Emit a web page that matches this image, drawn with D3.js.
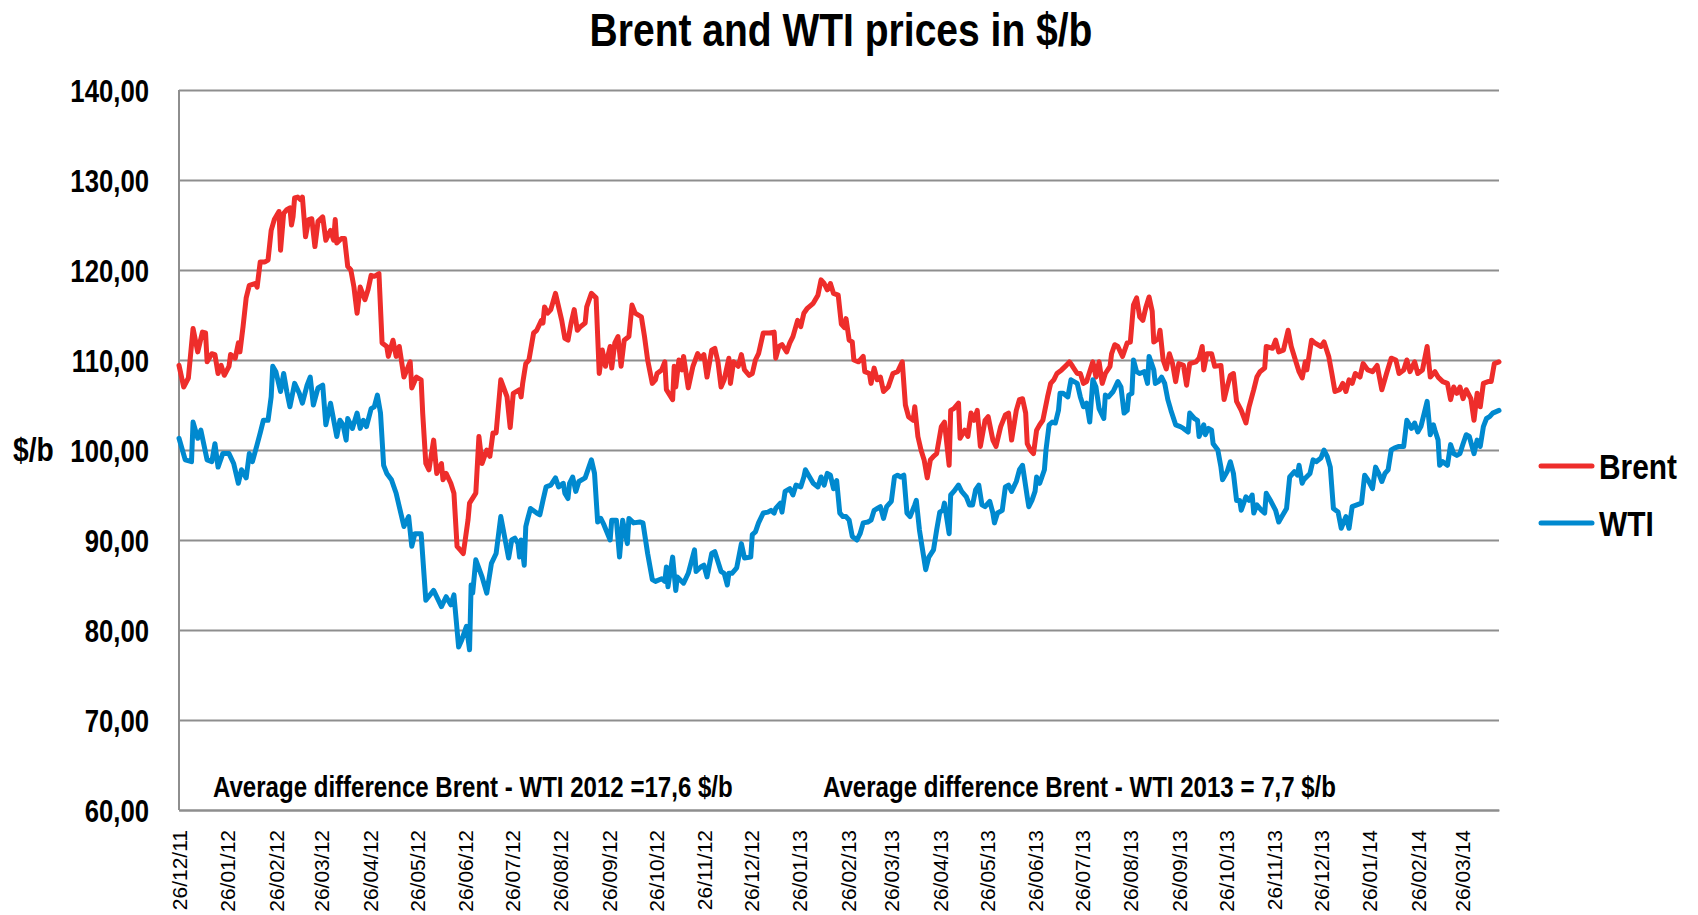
<!DOCTYPE html>
<html>
<head>
<meta charset="utf-8">
<title>Brent and WTI prices in $/b</title>
<script src="https://d3js.org/d3.v7.min.js"></script>
<style>
  body { margin: 0; background: #fff; }
  svg text { font-family: 'Liberation Sans', Arial, sans-serif; font-weight: bold; fill: #000; }
  .xaxis text { font-weight: normal; }
</style>
</head>
<body>
<script>
// days counted from 26/12/2011
var startDate = "26/12/11";

var brentDays = [0,3,6,9,12,15,17,18,21,23,25,27,29,32,33,36,38,39,41,43,45,49,50,52,55,57,59,61,64,65,67,69,71,72,73,74,76,78,79,81,83,85,87,89,92,94,97,99,100,101,104,106,108,110,112,114,116,119,121,123,125,128,130,133,134,137,139,141,144,148,149,152,155,156,158,160,163,165,168,169,171,174,176,178,180,182,185,186,190,192,194,197,199,201,203,206,210,212,214,
  218,219,220,222,224,227,229,232,233,234,236,238,241,243,245,247,249,251,253,255,257,260,261,264,267,269,271,273,276,277,279,281,283,285,288,290,292,296,298,300,303,305,306,309,311,312,316,317,318,320,322,323,326,329,332,334,336,338,341,343,345,347,349,352,353,355,358,360,362,365,367,369,371,374,378,381,382,384,386,389,391,393,396,398,400,402,406,409,411,413,415,417,419,422,
  424,426,427,429,431,432,435,438,439,442,443,445,447,449,451,454,457,460,463,465,467,470,471,473,475,477,479,481,483,485,488,490,493,494,496,499,500,503,505,507,509,511,513,516,518,521,523,526,529,531,533,536,538,540,542,543,545,547,549,551,553,556,558,560,562,565,568,570,572,575,577,579,581,585,587,589,591,593,596,597,599,601,604,607,609,611,613,615,617,619,621,623,624,627,628,630,632,634,636,
  638,640,643,645,647,651,653,655,656,658,661,663,667,669,671,673,675,677,680,683,685,688,690,692,695,696,700,702,704,707,710,712,715,717,719,721,722,725,727,731,733,736,738,740,743,745,747,749,751,753,756,758,761,764,767,770,773,776,779,781,784,786,788,791,793,796,799,801,804,806,809,812,814,816,818,820,822,824,827,829,831,833,835,838,840,842,845];

var brentPrices = [109.4,107.0,108.0,113.5,110.9,113.1,113.0,109.8,110.7,110.6,108.5,109.4,108.3,109.3,110.6,110.2,111.9,110.9,113.7,116.9,118.3,118.5,118.1,120.9,120.9,121.1,124.4,125.6,126.5,122.2,126.3,126.7,126.9,125.0,125.9,128.0,128.1,127.8,128.1,123.7,125.6,125.7,122.6,125.4,125.9,123.3,124.4,123.3,125.6,123.0,123.5,123.5,120.4,120.0,118.1,115.2,118.1,116.7,117.8,119.4,119.3,119.6,111.9,111.5,110.4,112.2,110.4,111.5,108.1,109.8,106.9,108.1,107.8,104.1,98.5,97.8,101.1,97.4,98.5,96.7,97.4,96.3,95.2,89.3,88.9,88.5,92.2,94.1,95.2,101.5,98.5,100.0,99.3,101.9,101.9,107.8,105.9,102.5,106.3,
  106.7,105.9,107.4,109.6,110.0,113.0,113.3,114.4,114.1,115.9,115.2,115.6,117.4,115.9,114.4,112.4,112.2,114.1,115.6,113.3,113.7,114.1,115.9,117.4,116.9,108.5,111.1,109.3,111.5,109.1,111.9,112.6,109.3,112.2,112.6,116.1,115.2,114.8,112.6,110.0,107.4,107.8,108.5,108.9,109.8,106.7,105.6,109.3,107.0,110.0,108.9,110.4,106.9,109.3,110.7,110.2,110.6,108.1,111.1,111.3,109.8,107.0,107.8,110.2,107.4,109.8,109.3,110.6,108.9,108.3,108.5,110.0,110.7,113.0,113.0,113.1,110.2,111.5,111.7,110.9,111.9,112.6,114.4,113.7,115.2,115.7,116.3,117.2,118.9,118.5,117.8,118.5,117.4,117.2,
  114.0,113.6,114.6,112.2,112.0,110.0,109.8,110.4,108.7,108.5,107.4,109.1,107.8,108.1,106.5,107.0,108.5,108.7,109.8,105.0,103.7,103.3,104.8,101.5,100.0,98.9,96.9,98.9,99.3,99.6,102.6,103.1,98.3,104.4,104.6,105.2,101.3,102.2,101.5,104.1,103.3,104.4,100.4,103.3,103.7,101.1,100.4,102.6,103.9,104.1,101.1,104.4,105.6,105.7,104.1,100.7,100.0,99.6,102.2,102.8,103.3,105.9,107.4,107.8,108.5,108.9,109.4,109.8,109.3,108.5,108.5,107.4,107.6,109.8,108.1,109.8,107.4,108.5,109.3,110.7,111.7,111.5,110.4,111.9,112.0,116.1,116.9,114.8,114.4,115.9,117.0,115.4,112.0,112.4,113.3,110.0,109.0,110.7,109.6,
  107.6,109.6,109.4,107.2,109.6,109.8,110.2,111.5,108.9,110.7,110.7,109.3,109.4,105.6,107.0,108.3,108.5,105.4,104.4,103.0,104.8,106.7,108.1,108.7,109.1,111.5,111.3,112.2,110.9,111.1,113.3,111.5,109.8,108.7,108.0,109.8,108.9,112.2,111.9,111.5,112.0,110.4,108.5,106.5,106.7,107.4,106.5,107.8,107.4,108.5,108.1,109.6,108.9,108.7,109.4,106.7,108.5,110.2,110.0,108.5,108.9,110.0,108.7,109.8,108.5,108.9,111.5,108.1,108.7,108.1,107.6,107.4,105.6,107.0,106.3,107.0,105.7,106.7,105.7,103.3,106.3,104.8,107.4,107.6,107.6,109.6,109.8];

var wtiDays = [0,4,8,9,12,14,18,21,23,25,28,32,35,38,40,43,45,47,50,52,54,57,59,60,62,65,67,69,71,74,77,79,82,84,86,89,92,94,97,101,103,105,107,108,111,114,116,118,120,123,125,127,129,131,133,136,139,144,147,149,151,155,158,163,168,171,174,176,179,181,184,186,187,188,190,194,197,200,203,206,211,
  213,215,217,218,219,221,222,223,225,229,231,233,235,238,241,243,246,247,249,250,252,254,256,260,261,264,266,268,270,272,276,277,280,282,284,287,288,291,295,297,300,303,305,309,311,312,313,316,318,319,323,326,330,331,334,336,338,341,343,347,349,351,352,354,357,360,362,366,367,369,371,374,377,379,381,382,385,386,388,391,393,395,398,400,401,403,406,409,411,413,415,417,419,
  421,423,425,427,429,431,434,436,438,441,443,445,447,449,451,453,456,458,460,462,464,466,468,471,472,474,476,478,480,483,485,487,489,490,493,494,496,499,501,504,506,508,510,512,514,516,519,521,522,524,527,529,531,533,536,538,540,543,544,546,548,549,551,554,555,557,559,561,563,564,566,569,571,573,575,577,579,581,583,585,587,589,592,593,595,598,601,603,605,607,608,610,611,613,615,618,620,621,624,625,627,629,631,
  633,635,638,641,643,646,647,650,652,653,656,657,659,661,662,665,667,668,671,673,675,677,679,680,683,685,687,688,690,693,695,696,699,702,704,706,709,711,714,716,717,719,720,724,726,728,731,733,735,737,739,742,744,747,749,751,754,757,759,761,764,766,768,770,772,774,776,778,781,784,786,789,791,793,795,796,799,801,803,804,806,807,809,812,814,816,818,820,822,824,826,829,831,833,835,837,839,841,845];

var wtiPrices = [101.3,98.9,98.7,103.1,101.3,102.2,98.9,98.7,100.7,98.1,99.6,99.6,98.5,96.3,97.8,96.9,99.6,98.7,100.6,101.9,103.3,103.3,105.9,109.3,108.7,106.5,108.5,106.5,104.8,107.4,106.3,105.2,107.2,108.1,105.0,106.9,107.2,102.8,105.2,101.5,103.3,102.8,101.1,103.5,102.4,104.1,102.4,103.3,102.6,104.6,104.8,106.1,104.1,98.3,97.4,96.7,95.2,91.5,92.6,89.3,90.7,90.7,83.3,84.4,82.6,83.7,82.8,83.9,78.1,78.9,80.4,77.8,85.0,84.1,87.8,85.9,84.1,87.4,88.5,92.6,88.0,
  90.0,90.2,89.6,88.1,90.0,87.2,91.5,92.2,93.5,93.0,92.8,94.4,95.9,96.1,96.9,95.9,96.3,95.2,94.6,96.3,97.0,95.4,96.5,96.9,97.4,98.9,97.4,92.0,92.4,91.7,90.0,92.2,92.2,88.1,92.2,89.6,92.4,91.9,92.0,91.9,88.5,85.6,85.4,85.7,85.4,87.0,84.8,88.1,84.4,85.9,85.2,86.3,88.9,86.5,87.0,87.2,85.9,88.5,88.7,86.5,86.3,85.0,86.3,86.3,86.9,89.6,88.0,88.1,90.6,90.9,91.9,93.0,93.1,93.3,93.0,93.5,94.1,93.1,95.4,95.7,95.0,96.1,95.9,97.0,97.8,97.2,96.3,95.9,97.0,96.1,97.4,97.2,95.7,
  96.6,93.0,92.6,92.6,92.2,90.4,90.0,90.7,91.9,92.0,92.2,93.3,93.5,93.7,92.4,93.7,94.3,97.0,97.2,97.0,97.2,93.0,92.6,93.9,94.4,91.1,88.9,86.7,88.1,88.9,91.1,93.1,93.3,94.1,90.7,95.0,95.4,96.1,95.4,94.8,93.9,93.9,95.6,96.1,93.9,93.7,94.3,93.0,91.9,93.0,93.3,95.9,96.1,95.4,96.5,97.8,98.3,94.8,93.7,94.4,95.4,97.0,96.3,97.8,100.0,102.8,103.1,103.0,104.4,106.3,106.3,105.9,107.8,107.6,107.4,105.9,104.8,105.2,103.1,107.8,107.0,104.6,103.5,106.1,105.9,106.5,107.6,107.0,104.1,104.4,106.1,106.3,110.0,108.7,108.5,108.7,107.4,110.4,108.9,107.4,107.6,108.1,107.4,
  105.6,104.4,102.8,102.6,102.4,102.0,104.1,103.5,103.3,101.5,102.8,101.7,102.4,102.2,100.7,100.0,98.1,96.7,97.6,98.7,97.4,94.4,94.4,93.3,94.8,94.4,95.0,93.0,93.9,93.3,93.0,95.2,94.3,93.3,92.0,92.6,93.5,97.0,97.6,97.2,98.3,96.3,96.7,97.4,98.9,98.7,99.1,100.0,99.3,98.1,93.5,93.1,91.3,92.6,91.3,93.7,93.9,94.1,97.2,96.7,95.7,98.1,97.4,96.5,97.4,97.8,100.0,100.2,100.4,100.4,103.3,102.4,103.0,102.0,102.6,103.3,105.4,101.7,102.8,102.2,101.1,98.3,98.7,98.3,100.6,99.6,99.4,99.6,100.7,101.7,101.5,99.6,101.1,100.4,102.6,103.5,103.7,104.1,104.4];

var tickLabels = ["26/12/11","26/01/12","26/02/12","26/03/12","26/04/12","26/05/12","26/06/12","26/07/12","26/08/12","26/09/12","26/10/12","26/11/12","26/12/12","26/01/13","26/02/13","26/03/13","26/04/13","26/05/13","26/06/13","26/07/13","26/08/13","26/09/13","26/10/13","26/11/13","26/12/13","26/01/14","26/02/14","26/03/14"];
var yTicks = [60, 70, 80, 90, 100, 110, 120, 130, 140];
var seriesNames = ["Brent", "WTI"];
var seriesColors = ["#ee2d2b", "#0089cf"];
var notes = ["Average difference Brent - WTI 2012 =17,6 $/b", "Average difference Brent - WTI 2013 = 7,7 $/b"];

var W = 1698, H = 915;
var plotLeft = 179, plotRight = 1499, plotTop = 90, plotBottom = 810;
var narrow = 0.83; // squeeze bold text to look like a narrow face

var parse = d3.utcParse("%d/%m/%y");
var fmt = d3.utcFormat("%d/%m/%y");
var t0 = parse(startDate);
var lastDay = d3.max(brentDays.concat(wtiDays));

var x = d3.scaleUtc()
  .domain([t0, d3.utcDay.offset(t0, lastDay)])
  .range([plotLeft, plotRight]);
var y = d3.scaleLinear().domain([60, 140]).range([plotBottom, plotTop]);

var svg = d3.select("body").append("svg")
  .attr("width", W).attr("height", H);

svg.append("rect").attr("width", W).attr("height", H).attr("fill", "#fff");

// bold narrow text placed at (px, py)
function narrowText(parent, px, py, size, str, anchor) {
  return parent.append("text")
    .attr("transform", "translate(" + px + "," + py + ") scale(" + narrow + ",1)")
    .attr("text-anchor", anchor || "start")
    .attr("font-size", size + "px")
    .text(str);
}

// title
narrowText(svg, 841, 46, 47, "Brent and WTI prices in $/b", "middle");

// grid + y labels
var yAxis = svg.append("g")
  .attr("transform", "translate(" + plotLeft + ",0)")
  .call(d3.axisLeft(y).tickValues(yTicks).tickSize(-(plotRight - plotLeft)).tickPadding(30)
    .tickFormat(function(d){ return d3.format(".2f")(d).replace(".", ","); }));
yAxis.select(".domain").remove();
yAxis.selectAll("line").attr("stroke", "#8e8e8e").attr("stroke-width", 2);
yAxis.selectAll("text")
  .attr("font-size", "31px")
  .attr("dy", "0.36em")
  .attr("x", -30 / narrow)
  .attr("transform", "scale(" + narrow + ",1)");

// left axis line
svg.append("line")
  .attr("x1", plotLeft).attr("x2", plotLeft).attr("y1", plotTop).attr("y2", plotBottom)
  .attr("stroke", "#8e8e8e").attr("stroke-width", 2);

narrowText(svg, 13, 461, 34, "$/b");

// x axis
var xAxis = svg.append("g")
  .attr("class", "xaxis")
  .attr("transform", "translate(0," + plotBottom + ")")
  .call(d3.axisBottom(x).tickValues(tickLabels.map(parse)).tickSize(0).tickFormat(fmt));
xAxis.select(".domain").attr("stroke", "#8e8e8e").attr("stroke-width", 2);
xAxis.selectAll("text")
  .attr("font-size", "21px")
  .attr("text-anchor", "end")
  .attr("transform", "rotate(-90)")
  .attr("x", -20)
  .attr("y", 0)
  .attr("dy", "0.36em");

// lines
var line = d3.line()
  .x(function(d){ return x(d3.utcDay.offset(t0, d[0])); })
  .y(function(d){ return y(d[1]); });

var series = [
  brentDays.map(function(d, i){ return [d, brentPrices[i]]; }),
  wtiDays.map(function(d, i){ return [d, wtiPrices[i]]; })
];

svg.selectAll(".series")
  .data(series)
  .enter()
  .append("path")
  .attr("class", "series")
  .attr("d", line)
  .attr("fill", "none")
  .attr("stroke", function(d, i){ return seriesColors[i]; })
  .attr("stroke-width", 5)
  .attr("stroke-linejoin", "round")
  .attr("stroke-linecap", "round");

// notes
narrowText(svg, 213, 797, 29, notes[0]);
narrowText(svg, 823, 797, 29, notes[1]);

// legend
seriesNames.forEach(function(name, i) {
  var ly = 466 + i * 57;
  svg.append("line")
    .attr("x1", 1541).attr("x2", 1592)
    .attr("y1", ly).attr("y2", ly)
    .attr("stroke", seriesColors[i])
    .attr("stroke-width", 5)
    .attr("stroke-linecap", "round");
  narrowText(svg, 1599, ly + 13, 36, name);
});
</script>
</body>
</html>
